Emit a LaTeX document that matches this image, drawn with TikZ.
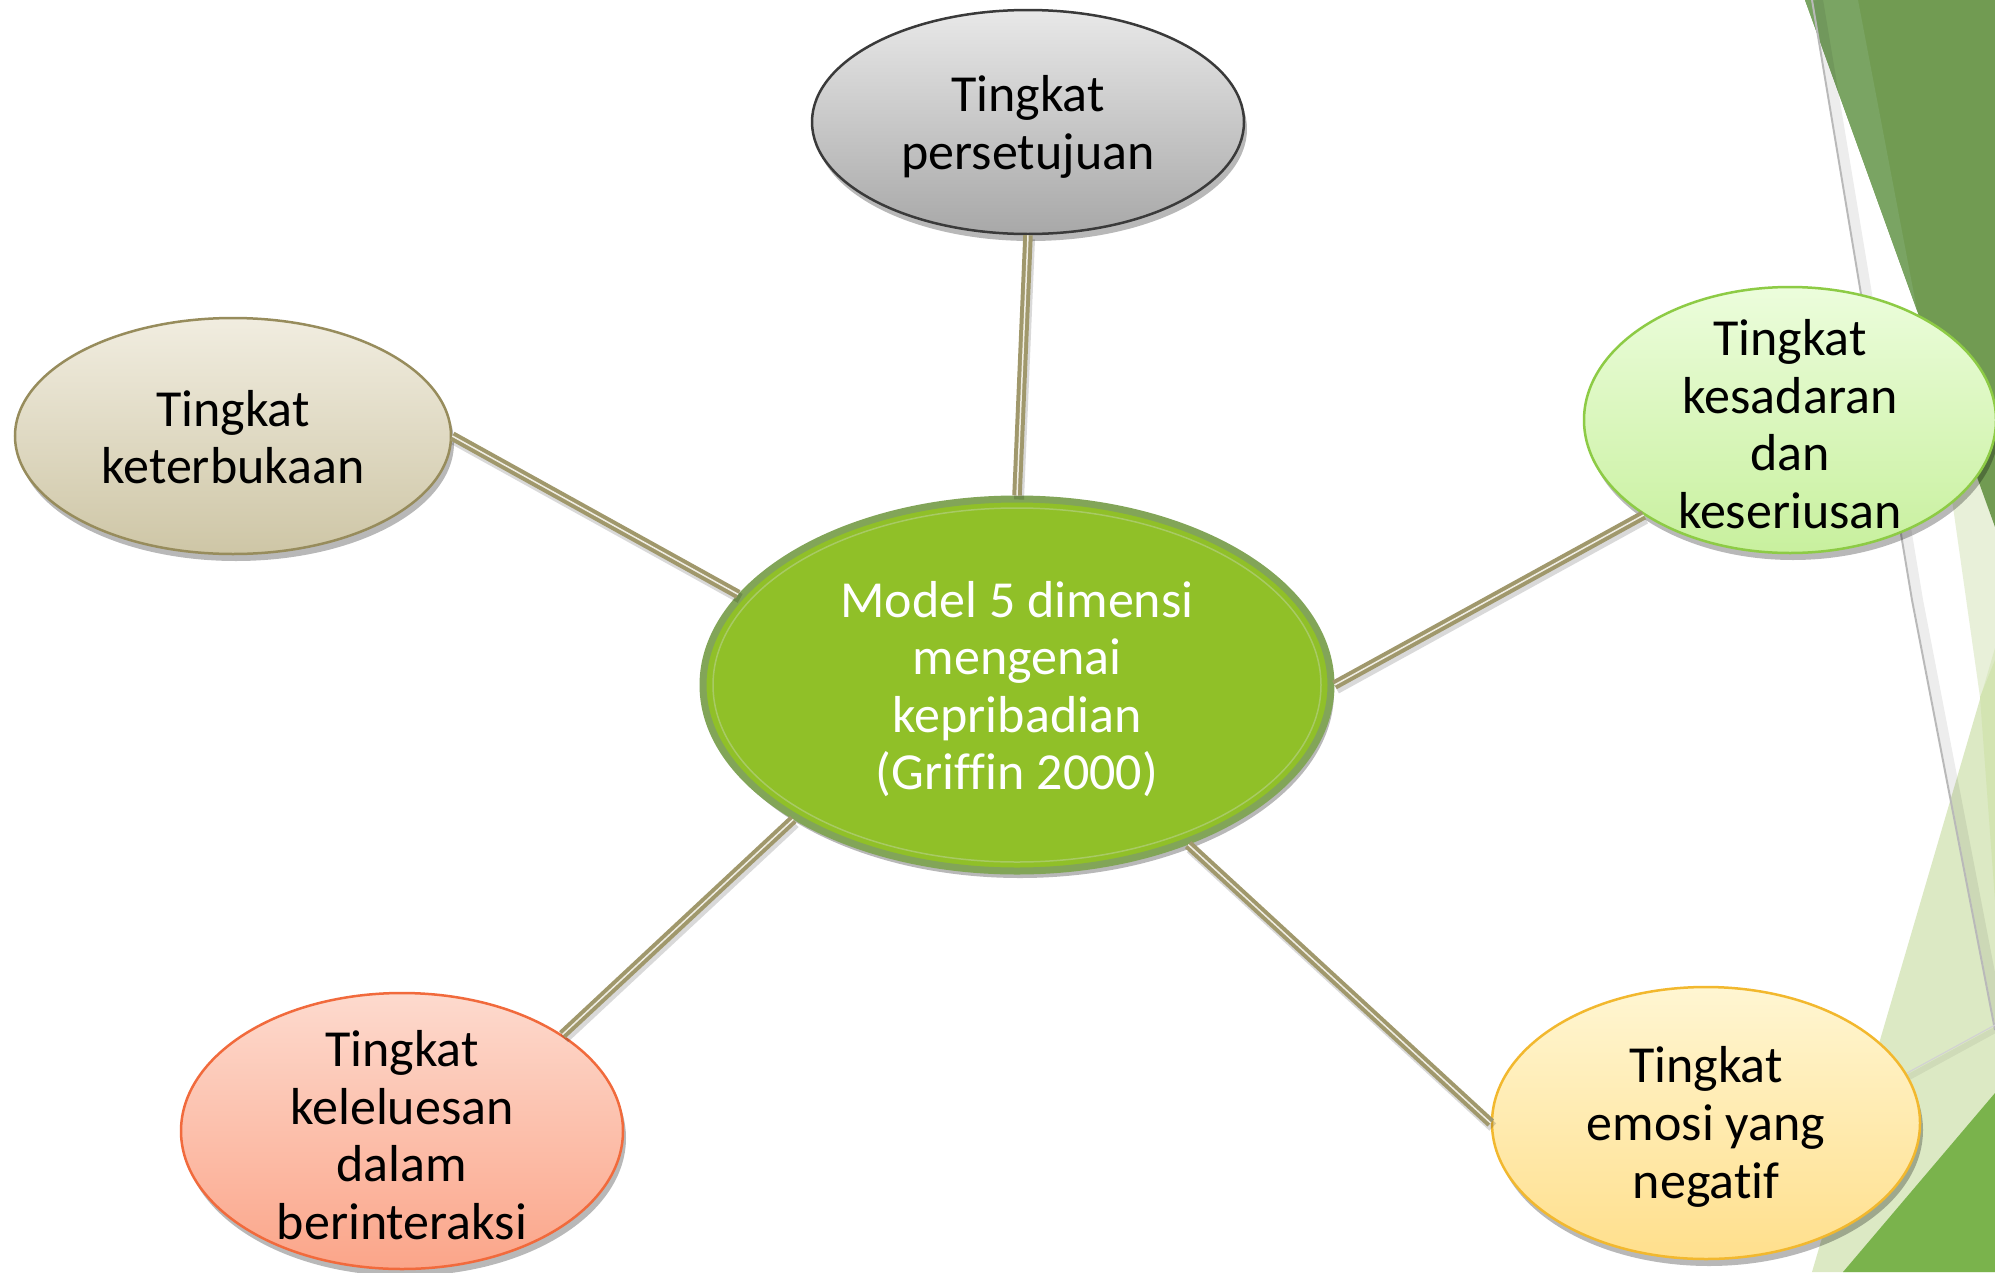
\documentclass[tikz,border=0pt]{standalone}
\usepackage{fontspec}
\setmainfont{Carlito}[Ligatures=NoCommon]
\usetikzlibrary{shadows,shapes.geometric}
\definecolor{dkgreen}{RGB}{113,155,82}
\definecolor{dkgreenb}{RGB}{122,164,99}
\definecolor{botgreen}{RGB}{122,179,76}
\definecolor{ltgreen}{RGB}{220,233,196}
\definecolor{palegreen}{RGB}{232,240,217}
\definecolor{midgreen}{RGB}{211,228,178}
\definecolor{khaki}{RGB}{160,152,108}
\definecolor{khakilt}{RGB}{240,238,228}
\definecolor{cfill}{RGB}{144,192,40}
\definecolor{cborder}{RGB}{130,165,88}
\definecolor{cinner}{RGB}{168,202,100}
\definecolor{topb}{RGB}{58,58,58}
\definecolor{topt}{RGB}{232,232,232}
\definecolor{topbot}{RGB}{168,168,168}
\definecolor{leftb}{RGB}{151,140,92}
\definecolor{leftt}{RGB}{241,237,224}
\definecolor{leftbot}{RGB}{206,198,166}
\definecolor{rightb}{RGB}{141,203,69}
\definecolor{rightt}{RGB}{236,253,220}
\definecolor{rightbot}{RGB}{200,240,158}
\definecolor{blb}{RGB}{241,106,60}
\definecolor{blt}{RGB}{253,218,206}
\definecolor{blbot}{RGB}{251,165,137}
\definecolor{brb}{RGB}{242,184,46}
\definecolor{brt}{RGB}{255,246,210}
\definecolor{brbot}{RGB}{255,223,140}
\begin{document}
\begin{tikzpicture}[x=1pt,y=-1pt,
  bubble/.style={ellipse, inner sep=0pt, line width=2.5pt,
    drop shadow={shadow xshift=3pt, shadow yshift=-7pt, opacity=0.28, fill=black}},
  lbl/.style={align=center, inner sep=0pt, yshift=-4pt, font=\fontsize{52}{57.6}\selectfont},
  conn/.style={draw=khaki, line width=4pt, double=khakilt, double distance=1.5pt,
    preaction={draw=black, draw opacity=0.15, line width=10pt,
      transform canvas={xshift=2pt, yshift=-4pt}}},
  greyline/.style={draw=gray!55, line width=2pt},
  greyshade/.style={draw=black, draw opacity=0.07, line width=10pt}
]
\useasboundingbox (0,0) rectangle (1995,1272);
\fill[white] (0,0) rectangle (1995,1272);

% right-side decoration
\fill[palegreen] (1935,380) -- (1995,380) -- (1995,660) -- (1980,697) -- cycle;
\fill[dkgreen] (1805,0) -- (1995,0) -- (1995,527) -- cycle;
\fill[dkgreenb] (1805,0) -- (1858,0) -- (1917,310) -- cycle;
\fill[ltgreen] (1995,648) -- (1995,1272) -- (1812,1272) -- cycle;
\fill[midgreen] (1980,697) -- (1995,660) -- (1995,900) -- cycle;
\draw[greyshade, transform canvas={xshift=6pt}] (1812,0) -- (1912,600) -- (1995,1030);
\draw[greyline] (1812,0) -- (1912,600) -- (1995,1030);
\draw[draw=black, draw opacity=0.06, line width=6pt] (1995,1030) -- (1885,1090);
\draw[draw=gray!35, line width=1.2pt] (1995,1025) -- (1885,1085);
\fill[botgreen] (1995,1093) -- (1995,1272) -- (1843,1272) -- cycle;

% nodes
\node[bubble, minimum width=432pt, minimum height=224pt, draw=topb, top color=topt, bottom color=topbot] (t) at (1028,122) {};
\node[bubble, minimum width=436pt, minimum height=236pt, draw=leftb, top color=leftt, bottom color=leftbot] (l) at (233,436) {};
\node[bubble, minimum width=412pt, minimum height=266pt, draw=rightb, top color=rightt, bottom color=rightbot] (r) at (1790,420) {};
\node[bubble, minimum width=442pt, minimum height=276pt, draw=blb, top color=blt, bottom color=blbot] (bl) at (402,1131) {};
\node[bubble, minimum width=428pt, minimum height=272pt, draw=brb, top color=brt, bottom color=brbot] (br) at (1706,1123) {};
\node[bubble, minimum width=628pt, minimum height=372pt, draw=cborder, line width=7pt, fill=cfill] (c) at (1017,685) {};
\draw[cinner, line width=1.5pt] (c.center) ellipse [x radius=304pt, y radius=177pt];

% connectors
\draw[conn] (t.south) -- (c.north);
\draw[conn] (l.east) -- (c.162);
\draw[conn] (r.213) -- (c.east);
\draw[conn] (bl.31) -- (c.211);
\draw[conn] (br.west) -- (c.317);

% labels
\node[lbl, yshift=-1pt] (tT) at (t) {Tingkat\\persetujuan};
\node[lbl, yshift=3pt] (lT) at (l) {Tingkat\\keterbukaan};
\node[lbl] (rT) at (r) {Tingkat\\kesadaran\\dan\\keseriusan};
\node[lbl] (blT) at (bl) {Tingkat\\keleluesan\\dalam\\berinteraksi};
\node[lbl] (brT) at (br) {Tingkat\\emosi yang\\negatif};
\node[lbl, text=white] (cT) at (c) {Model 5 dimensi\\mengenai\\kepribadian\\(Griffin 2000)};
\end{tikzpicture}
\end{document}
